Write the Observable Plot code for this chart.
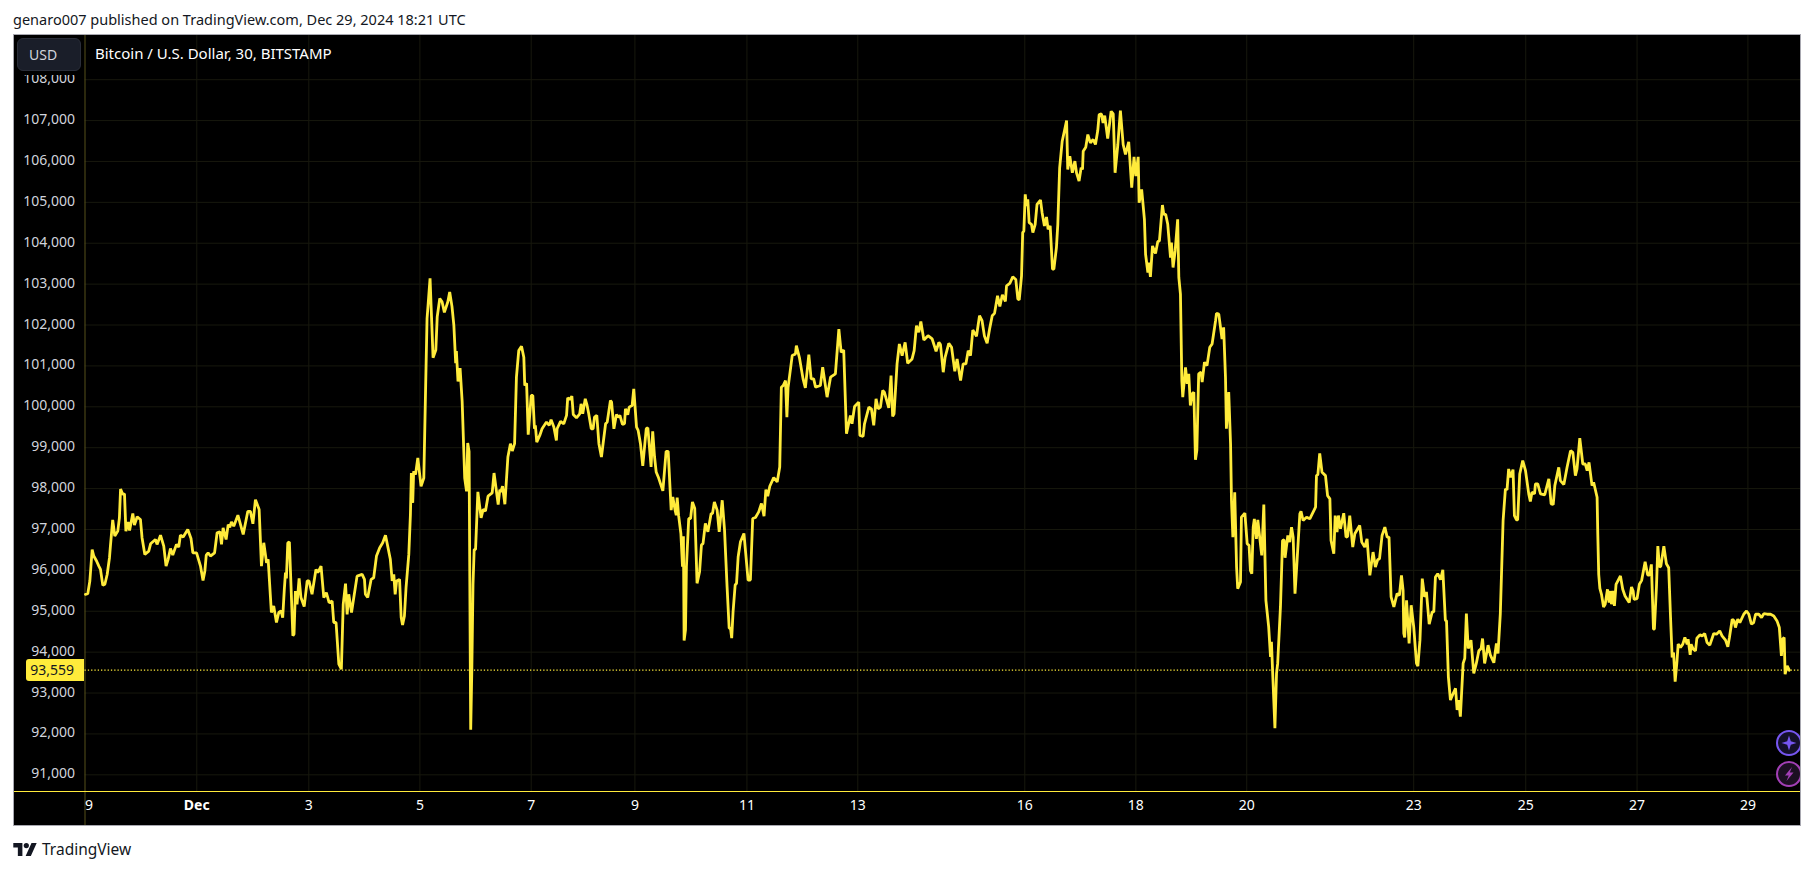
<!DOCTYPE html>
<html>
<head>
<meta charset="utf-8">
<script src="https://cdn.jsdelivr.net/npm/d3@7"></script>
<script src="https://cdn.jsdelivr.net/npm/@observablehq/plot@0.6"></script>
<style>
html,body{margin:0;padding:0;background:#fff;width:1814px;height:870px;overflow:hidden;font-family:"Noto Sans",sans-serif}
#pub{position:absolute;left:13px;top:10px;font-size:14.5px;line-height:18px;color:#131722;white-space:nowrap}
#chart{position:absolute;left:13px;top:34px;width:1788px;height:792px}
#chart svg{display:block}
#box{position:absolute;left:13px;top:34px;width:1788px;height:792px;box-sizing:border-box;border:1px solid #a8a8b0;pointer-events:none}
#usd{position:absolute;left:17px;top:38px;width:64px;height:33px;box-sizing:border-box;background:#1a1e29;border:1px solid #2a2e39;border-radius:6px;color:#d1d4dc;font-size:14px;line-height:31px;padding-left:11px;box-shadow:0 3px 0 1px #000}
#name{position:absolute;left:95px;top:44px;font-size:15px;line-height:18px;color:#fff;white-space:nowrap}
#tag{position:absolute;left:26px;top:659px;width:58px;height:22px;box-sizing:border-box;background:#ffeb3b;border-radius:3px 0 0 3px;color:#131722;font-size:14px;line-height:22px;text-align:right;padding-right:10px}
#icons{position:absolute;left:1770px;top:725px;width:30px;height:66px;overflow:hidden}
#brand{position:absolute;left:13px;top:839px;height:20px;display:flex;align-items:center;color:#131722;font-size:15.5px}
#brand svg{margin-right:5px}
</style>
</head>
<body>
<div id="pub">genaro007 published on TradingView.com, Dec 29, 2024 18:21 UTC</div>
<div id="chart"></div>
<div id="box"></div>
<div id="usd">USD</div>
<div id="name">Bitcoin / U.S. Dollar, 30, BITSTAMP</div>
<div id="tag">93,559</div>
<div id="icons">
<svg width="30" height="66" viewBox="0 0 30 66">
<circle cx="19" cy="18" r="12" fill="#14102a" stroke="#7656f0" stroke-width="2"/>
<path d="M19 10.5 L20.8 16.2 L26.5 18 L20.8 19.8 L19 25.5 L17.2 19.8 L11.5 18 L17.2 16.2 Z" fill="#7656f0"/>
<circle cx="19" cy="49" r="12" fill="#1c0f22" stroke="#a23fb5" stroke-width="2"/>
<path d="M22 42 L15 50.5 L18.7 50.5 L16.5 56 L23.5 47.5 L19.8 47.5 Z" fill="#a23fb5"/>
</svg>
</div>
<div id="brand">
<svg width="24" height="13" viewBox="0 0 36 20"><path d="M0 0H14V20H7V7H0Z M28 0H36L27 20H19Z" fill="#131722"/><circle cx="20" cy="4" r="4" fill="#131722"/></svg>
<span>TradingView</span>
</div>
<script>
const lastPrice = 93559;
const priceTicks = [91000,92000,93000,94000,95000,96000,97000,98000,99000,100000,101000,102000,103000,104000,105000,106000,107000,108000];
// hours since Nov 29 00:00 on the chart's gap-free time axis
const tickHours = [48.4,96.9,145,193.2,238.1,286.6,334.6,406.9,455,503,575.3,623.8,672,720];
const dayLabels = ["Dec","3","5","7","9","11","13","16","18","20","23","25","27","29"];
const firstLabel = "9";

// [hours since Nov 29 00:00 UTC, price]
const week1 = [
[0.2,95415],[1.2,95430],[2.1,95740],[3.1,96510],[3.8,96350],[5,96230],[6,96105],[6.7,96025],[7.7,95635],[8.6,95660],
[9.6,95900],[10.6,96310],[11,96595],[12,97235],[12.9,96840],[14.2,96960],[14.9,97285],[15.4,97990],[16.4,97855],[17.1,97870],
[17.7,96960],[18.7,97185],[19.3,96975],[20.7,97390],[21.4,97105],[22.6,97310],[24,97245],[24.7,96800],[25.9,96390],[27.6,96470],
[28.4,96650],[30.5,96755],[31.2,96635],[32.7,96860],[34.1,96595],[35.1,96105],[36,96270],[37,96535],[38,96375],[39.6,96635],
[40.6,96570],[41.3,96860],[42.5,96815],[44.5,97000],[45.9,96780],[46.7,96430],[48.3,96430],[50,96105],[51.1,95755],[51.9,95985],
[52.5,96375],[53.3,96430],[54.3,96350],[56.1,96430],[57.2,96920],[58.4,96945],[59.1,96635],[59.8,97040],[61.1,96755],[62,97120],
[62.7,97055],[63.4,97185],[64.4,97080],[66.2,97350],[68.5,96880],[70.5,97445],[71.6,97445],[72.7,97140],[73.8,97730],[75.4,97490],
[76.4,96105],[77.4,96675],[78.6,96185],[79.3,96270],[80.7,94970],[81.7,95130],[82.9,94725],[83.9,94970],[84.9,95010],[85.6,94845],
[86.3,95535],[86.8,95945],[87.2,95805],[87.8,96675],[88.5,96690],[90,94400],[90.5,94440],[91.1,95495],[91.8,95170],[92.7,95805],
[93.5,95335],[94.9,95115],[96.2,95740],[97,95740],[98.3,95415],[100,96025],[100.8,95945],[102.2,96105],[103.4,95335],[104.5,95455],
[105.7,95210],[107,95250],[107.7,94725],[108.7,94725],[109.9,93705],[111,93585],[111.8,95170],[112.8,95675],[113.5,94925],[114.2,95415],
[115.4,94970],[117.8,95860],[120,95900],[121,95780],[121.4,95415],[122.4,95335],[123.9,95780],[125,95820],[126.2,96350],[127.6,96555],
[128.9,96675],[130.1,96860],[131.5,96470],[132.2,96270],[133,95740],[133.7,95900],[134.3,95415],[134.9,95740],[136.2,95780],[136.9,94845],
[137.5,94665],[138.3,94885],[139,95575],[140.2,96390],[140.9,97365],[141.3,98380],[141.9,97650],[142.3,98420],[143.1,98340],[144.1,98750],
[145.5,98055],[146.7,98260],[147.5,100535],[148.1,102160],[148.6,102530],[149.4,103140],[150.7,101200],[151.9,101390],[152.5,102200],[153.6,102650],
[154.6,102570],[155.6,102310],[157.1,102570],[157.9,102810],[158.9,102450],[159.7,102000],[160.5,101065],[160.8,101365],[161.5,100620],[162.4,100945],
[163.3,100130],[164.4,98260],[165.2,97935],[165.7,99115],[166.3,98910],[166.7,94845],[167,92105],[167.5,93625],[168,95660],[168.5,96510],
[169.1,96510],[170.1,97920],[171.5,97285],[172.4,97490],[173.4,97450],[174.5,97815],[176.3,97895],[177.1,98380],[178.9,97610],[179.6,97975]
];
const week2 = [
[180,97919],[180.8,98057],[181.8,97618],[183.1,98772],[184.2,99098],[185,98919],[186,99098],[186.8,100724],[187.8,101374],[189,101480],
[190,101211],[190.4,100520],[191.2,100577],[191.9,99317],[193.2,100276],[193.9,100276],[194.6,99463],[195,99545],[195.6,99138],[196.9,99300],
[197.9,99463],[199.8,99626],[201,99545],[201.8,99683],[203,99504],[204.1,99179],[204.4,99463],[205.9,99642],[207.3,99585],[208.5,99789],
[209,100220],[209.9,100179],[210.8,100260],[211.4,99813],[212.8,99732],[214.2,99829],[214.8,100073],[215.5,99829],[216.6,100195],[217.4,100033],
[218.1,99829],[219.2,99463],[220,99463],[220.6,99748],[221.6,99789],[222.5,99098],[223.6,98772],[225.4,99585],[226.1,99626],[227.5,100154],
[228,100114],[229,99463],[230.1,99813],[230.8,99748],[231.6,99789],[232.7,99569],[233.6,99585],[234,99951],[235,99805],[235.6,99992],
[236.9,100033],[237.6,100439],[238.8,99504],[239.5,99423],[240.5,99098],[241.5,98553],[243,99463],[243.7,99488],[245.1,98528],[245.8,99398],
[246.6,98772],[247.3,98407],[248.2,98285],[250.2,97943],[251.6,98911],[252.5,98911],[253.8,97472],[254.5,97797],[255.5,97472],[256,97350],
[256.4,97780],[257,97350],[258,96902],[258.7,96090],[259.1,96837],[259.4,94285],[260,94545],[260.4,96090],[261.4,97268],[262.2,97268],
[263,97675],[264,97512],[265,95683],[266.1,95968],[266.9,96618],[267.6,96659],[268.6,97146],[269.7,96943],[271.1,97390],[271.7,97390],
[272.5,97675],[273.7,97472],[274.6,96943],[275.9,97715],[276.9,96984],[278,95602],[278.9,94585],[279.5,94585],[280,94341],[280.6,94992],
[281.5,95642],[282.1,95683],[282.8,96333],[283.8,96699],[285.3,96902],[287.1,95764],[288.1,95764],[289.1,97268],[290.3,97293],[291.7,97431],
[292.9,97634],[294,97325],[294.8,97976],[295.6,97813],[296.5,98057],[298.2,98268],[299.7,98163],[300.8,98528],[301.5,100480],[302.3,100520],
[303.3,100642],[303.9,99748],[304.4,100463],[306.2,101252],[307.6,101293],[308,101496],[309.3,101211],[310.9,100683],[311.9,100463],[313.4,101276],
[314.4,100683],[315.5,100683],[316.3,100480],[318.4,100520],[319.4,100967],[321.3,100236],[322.8,100724],[324.9,100805],[326.4,101902],[327.4,101333],
[328.5,101390],[329.7,99341],[331.4,99789],[332.1,99585],[333.2,100008],[335,100114],[335.5,99301],[336.9,99276],[337.5,99585],[339.4,99992],
[340.5,99951],[341.5,99545],[342.5,100195],[343.4,99951],[344.4,99992],[345.4,100398],[346.1,100358],[348,99976],[349,100764],[349.7,99764],
[350.3,99829],[351.6,101049],[352.6,101537],[353.8,101252],[355.1,101577],[356.2,101065],[358.1,101171],[359,101374],[360,101984],[361,101821],
[361.9,102089],[363.2,101634],[365,101740],[366.8,101659],[368.5,101358],[369.7,101577]
];
const week3 = [
[370.4,101520],[371.6,100846],[372.4,101211],[374,101553],[375.2,101455],[376.6,100870],[377.6,101171],[379.1,100642],[380.2,101049],[381.4,101049],
[382.4,101374],[383.4,101252],[384.4,101878],[386,101724],[387.3,102228],[388.4,102106],[389.4,101740],[390.6,101553],[391.8,101943],[392.8,102228],
[393.8,102285],[395.1,102715],[396.1,102455],[397.2,102740],[398.5,102577],[399,102959],[400.4,103016],[401.7,103179],[403,103114],[403.9,102634],
[404.5,102618],[405.5,103203],[406,104260],[406.5,104301],[407.1,105195],[407.6,104911],[408.2,105073],[408.8,104504],[409.8,104463],[410.4,104260],
[411.4,104463],[412.2,104951],[413.7,105057],[414.4,104748],[415.4,104423],[416.3,104642],[417,104341],[417.9,104423],[418.9,103366],[419.5,103366],
[420.6,103894],[421.2,104463],[422,105845],[423.1,106496],[424.1,106756],[425,107000],[425.5,105805],[426.4,106130],[427.5,105724],[428.6,106008],
[429.3,105724],[430.4,105520],[431.3,105845],[431.9,105805],[432.2,106252],[433.3,106350],[434.2,106658],[435.3,106455],[436.5,106537],[437.5,106415],
[438.5,106756],[439.1,107146],[440.1,107162],[440.8,106943],[441.5,107122],[442.8,106561],[444.3,107227],[445.2,107162],[446,105724],[447.2,106415],
[448.3,107244],[449.5,106415],[450.5,106171],[451.9,106480],[453.2,105358],[454.2,106114],[455,105642],[456,106114],[456.4,104992],[457.5,105317],
[458.7,104585],[459.2,103732],[460.2,103285],[460.6,103528],[461.3,103179],[462.2,103935],[463.5,103748],[464.5,104041],[465.2,104057],[466.5,104935],
[467.1,104707],[467.9,104707],[468.8,104463],[470,103650],[470.4,104016],[471.1,103406],[472,103813],[473.1,104585],[473.6,103163],[474.3,102756],
[474.9,100642],[475.3,100236],[476.5,100967],[477.2,100561],[477.9,100805],[478.6,100033],[479.4,100317],[480.1,100358],[480.8,98707],[481.4,98935],
[482.2,100805],[483.2,100846],[483.7,100602],[484.7,101089],[485.8,101008],[487,101455],[488,101537],[489.5,102106],[489.9,102285],[490.9,102268],
[492.3,101659],[493,101943],[493.8,100724],[494.2,99463],[495.2,100358],[496,99089],[496.4,97707],[497,96813],[497.8,97911],[498.6,96081],
[499.1,95553],[500.3,95716],[500.7,97301],[502.2,97398],[503.2,96650],[504,96610],[504.6,96000],[505.2,95919],[505.8,97057],[506.3,97260],
[507.2,96772],[507.8,97236],[509,96610],[509.5,96366],[510.4,97610],[511.3,95268],[512.5,94618],[513.3,93886],[513.7,94252],[514.3,93398],
[515.2,92138],[515.9,93480],[516.4,93724],[517.6,95106],[518.5,96732],[519.2,96748],[519.6,96309],[520.8,96854],[521.6,96691],[522.4,97057],
[523.1,96813],[523.9,95431],[524.8,96244],[526,97382],[526.5,97447],[527.4,97220],[528.9,97301],[530.3,97260],[532.8,97545],[533.2,98317],
[533.8,98341],[534.6,98862],[535.6,98398],[537.1,98317],[538,97829],[539,97748],[539.5,96732],[540.7,96407],[541.3,97341],[542.1,96935],
[542.7,97341],[543.6,97016],[545,97398],[546,96813],[546.7,96829],[547.6,97341],[548.9,96569],[549.8,96894],[551.9,97097],[552.8,96691],
[554.1,96569],[555.1,96772],[556.3,95878],[557.7,96447],[558.7,96081],[559.7,96260],[560.5,96285],[561.6,96854],[562.8,97057],[563.8,96813],
[564.6,96813],[565.5,95350],[566.7,95106],[568.1,95431],[569.1,95390],[570,95878],[570.7,95512],[571,94455],[571.4,94358],[572.2,95268],
[573.3,94211],[574.2,95146],[575.3,94618],[576.5,93724],[577.1,93659],[578,94293],[579,95797],[580,95350],[580.8,95472],[582,94683],
[583.3,94984],[584,94984],[584.7,95838],[585.7,95919],[586.9,95772],[587.9,96016],[589,94781],[589.5,94764],[590.3,93398],[591.2,92829],
[592.1,92951],[593.4,93114],[594.1,92585],[594.8,92829],[595.5,92423],[596.7,93724],[597.4,93846],[598.1,94943],[598.9,94090],[600.1,94293],
[601.3,93480],[602.4,93724],[603.5,94032],[604.5,94090],[605.1,94333],[606,93724],[607.5,94171],[608.5,93927],[610,93740],[611.1,94211],
[611.8,93967],[612.8,94943],[614,97220],[615,97992],[615.7,97967],[616.4,98480],[617.2,98276],[618.3,98463],[618.9,97341],[619.8,97236],
[620.3,97236],[621.2,98358],[622.5,98683],[623.7,98439],[625.1,97870],[625.8,97683],[626.5,97910],[627.6,97870],[628,98114],[629,98114],
[630.2,97870],[632,97846],[633.8,98236],[634.8,97626],[635.7,97610],[636.4,98073],[638.1,98520],[638.8,98195],[640.3,98098],[641.7,98520],
[643.2,98927],[644.2,98886],[645.3,98317],[646,98480],[647.2,99236],[648.5,98601],[649.6,98601],[650.4,98439],[651.2,98642],[652.5,98073],
[653.2,98154],[654.7,97789]
];
const week4 = [
[655,96878],[655.4,95902],[655.9,95561],[656.6,95415],[657.5,95106],[658.2,95171],[659.2,95537],[659.9,95211],[660.5,95496],[660.9,95171],
[661.5,95496],[662.2,95130],[662.9,95659],[663.8,95756],[664.8,95862],[665.8,95537],[666.8,95374],[668.6,95211],[669.6,95593],[670.3,95496],
[670.7,95293],[672,95309],[673,95659],[674,95756],[675.5,96211],[676.6,95886],[677.4,95886],[678.2,96146],[679.1,94561],[679.5,94561],
[680.4,95593],[681,96593],[681.7,96081],[682.3,96106],[683.6,96593],[684.7,96163],[685.7,96065],[686.5,94846],[687.2,93870],[687.8,93992],
[688.5,93276],[689.3,93789],[689.8,94195],[690.8,94114],[691.8,94195],[692.7,94358],[693.7,94195],[694.1,94317],[695,93935],[695.4,94195],
[696.3,94073],[697.3,94033],[697.9,94341],[699.2,94423],[700.2,94398],[701.3,94455],[702.3,94236],[703.5,94171],[705.2,94455],[706.4,94439],
[707.8,94520],[708.8,94398],[710.3,94293],[711.3,94130],[712,94358],[713.2,94805],[714,94764],[714.6,94602],[715.6,94805],[716.5,94724],
[718.2,94927],[719.4,95008],[720.4,94927],[721.5,94683],[722.5,94724],[723.3,94927],[724.7,94927],[725.9,94846],[726.9,94943],[728.3,94927],
[729.8,94927],[731.2,94886],[732.6,94764],[733.6,94602],[734.5,93911],[735,94317],[735.7,94358],[736.1,93463],[737,93666],[737.9,93559]
];

const start = Date.UTC(2024, 10, 29);
const toDate = h => new Date(start + h * 3600e3);
const rows = [...week1, ...week2, ...week3, ...week4].map(([h, p]) => ({date: toDate(h), price: p}));
const dayTicks = tickHours.map(toDate);
const labelFor = d => dayLabels[dayTicks.findIndex(t => +t === +d)];
const regularTicks = dayTicks.filter(d => labelFor(d) !== "Dec");
const monthTicks = dayTicks.filter(d => labelFor(d) === "Dec");
const firstTick = toDate(0);

const gridColor = "#17180d";
const yellow = "#ffeb3b";

const plot = Plot.plot({
  width: 1788,
  height: 792,
  marginLeft: 71.5,
  marginRight: 0,
  marginTop: 0,
  marginBottom: 35,
  style: {background: "#000", fontFamily: "'Noto Sans', sans-serif"},
  x: {type: "utc", domain: [toDate(0), toDate(743.2)]},
  y: {domain: [90592, 109105]},
  marks: [
    Plot.gridY(priceTicks, {stroke: gridColor, strokeOpacity: 1}),
    Plot.gridX(dayTicks, {stroke: gridColor, strokeOpacity: 1}),
    Plot.ruleX([firstTick], {stroke: "#57501a", insetBottom: -35}),
    Plot.ruleY([lastPrice], {stroke: yellow, strokeDasharray: "1.3 2", strokeWidth: 1.2}),
    Plot.frame({anchor: "bottom", stroke: yellow, insetLeft: -71.5}),
    Plot.axisY(priceTicks, {anchor: "left", tickSize: 0, tickPadding: 10, label: null, fontSize: 14, dy: -1, fill: "#d1d4dc", tickFormat: d3.format(",")}),
    Plot.axisX(regularTicks, {anchor: "bottom", tickSize: 0, tickPadding: 9, label: null, fontSize: 14, fill: "#fff", tickFormat: labelFor}),
    Plot.axisX(monthTicks, {anchor: "bottom", tickSize: 0, tickPadding: 9, label: null, fontSize: 14, fontWeight: 700, fill: "#fff", tickFormat: labelFor}),
    Plot.axisX([firstTick], {anchor: "bottom", tickSize: 0, tickPadding: 9, label: null, fontSize: 14, fill: "#fff", dx: 4, tickFormat: () => firstLabel}),
    Plot.line(rows, {x: "date", y: "price", stroke: yellow, strokeWidth: 2.8, curve: "linear", strokeLinejoin: "miter"})
  ]
});
document.getElementById("chart").appendChild(plot);
</script>
</body>
</html>
